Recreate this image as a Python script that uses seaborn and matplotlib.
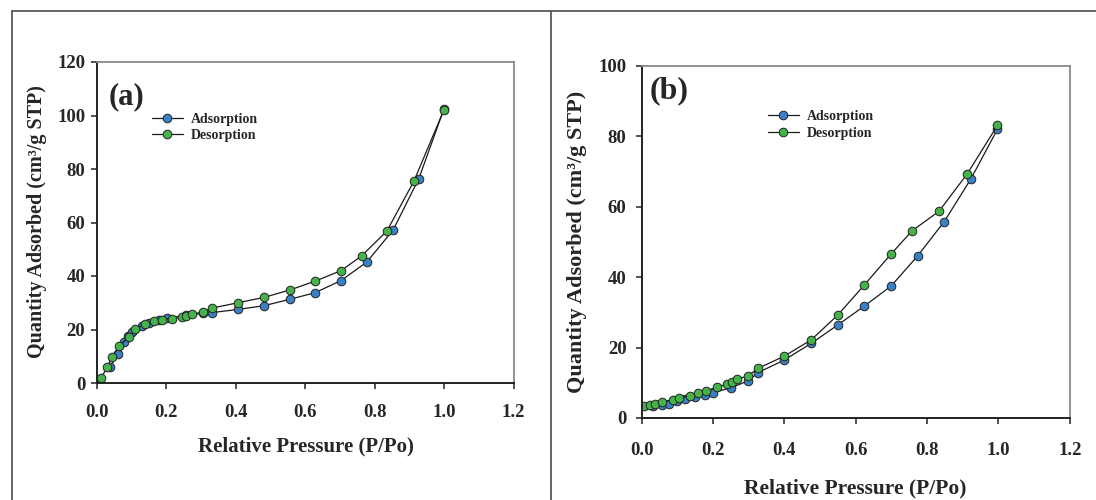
import matplotlib
matplotlib.use("Agg")
import matplotlib.pyplot as plt
import seaborn as sns
import pandas as pd
from matplotlib.lines import Line2D

# panel (a) isotherm
a_ads_p = [0.038, 0.061, 0.079, 0.090, 0.100, 0.129, 0.150, 0.180, 0.203, 0.255,
           0.304, 0.330, 0.406, 0.481, 0.556, 0.629, 0.703, 0.777, 0.853, 0.927, 0.999]
a_ads_q = [6.1, 10.8, 15.4, 17.5, 19.0, 21.3, 22.5, 23.5, 24.2, 25.3,
           26.0, 26.3, 27.5, 28.9, 31.3, 33.8, 38.3, 45.2, 57.2, 76.4, 102.3]
a_des_p = [0.012, 0.030, 0.042, 0.064, 0.092, 0.110, 0.138, 0.164, 0.188, 0.217, 0.245, 0.255,
           0.273, 0.304, 0.331, 0.406, 0.481, 0.556, 0.629, 0.703, 0.762, 0.835, 0.913, 0.999]
a_des_q = [2.0, 5.9, 9.8, 13.8, 17.3, 20.1, 22.1, 23.2, 23.7, 24.0, 24.5, 25.2,
           25.7, 26.5, 28.0, 30.0, 32.0, 34.8, 38.1, 42.0, 47.5, 56.8, 75.5, 102.0]

# panel (b) isotherm
b_ads_p = [0.030, 0.057, 0.075, 0.100, 0.121, 0.149, 0.176, 0.199, 0.251, 0.299,
           0.326, 0.400, 0.475, 0.549, 0.624, 0.699, 0.773, 0.848, 0.922, 0.997]
b_ads_q = [3.4, 3.7, 4.0, 4.8, 5.3, 5.9, 6.4, 7.2, 8.6, 10.6,
           12.9, 16.5, 21.2, 26.4, 31.8, 37.5, 46.0, 55.8, 67.8, 82.0]
b_des_p = [0.005, 0.024, 0.037, 0.056, 0.087, 0.105, 0.134, 0.158, 0.181, 0.211, 0.240, 0.253,
           0.268, 0.298, 0.326, 0.400, 0.475, 0.549, 0.624, 0.699, 0.758, 0.833, 0.912, 0.997]
b_des_q = [3.5, 3.8, 4.1, 4.6, 5.1, 5.6, 6.3, 7.0, 7.8, 8.7, 9.7, 10.3,
           11.0, 12.0, 14.1, 17.6, 22.2, 29.2, 37.8, 46.6, 53.2, 58.7, 69.3, 83.1]

x_ticks = [0.0, 0.2, 0.4, 0.6, 0.8, 1.0, 1.2]
a_y_ticks = [0, 20, 40, 60, 80, 100, 120]
b_y_ticks = [0, 20, 40, 60, 80, 100]

BLUE = "#3a80c4"
GREEN = "#46b34a"

sns.set_style("white")
plt.rcParams["font.family"] = ["Liberation Serif", "DejaVu Serif"]
plt.rcParams["font.weight"] = "bold"
plt.rcParams["axes.labelweight"] = "bold"

fig = plt.figure(figsize=(10.96, 5.0), dpi=100)

# outer table-like frame
frame_kw = dict(color="#5a5a5a", linewidth=1.3, transform=fig.transFigure)
fig.add_artist(Line2D([12 / 1096, 1.0], [1 - 11 / 500] * 2, **frame_kw))
fig.add_artist(Line2D([12 / 1096] * 2, [0.0, 1 - 11 / 500], **frame_kw))
fig.add_artist(Line2D([551 / 1096] * 2, [0.0, 1 - 11 / 500], **frame_kw))


def draw_panel(ax, ads_p, ads_q, des_p, des_q, yticks, tag, tag_xy, tag_size,
               leg_xy, xlab_xy, ylab_xy, xlab_size, ylab_size, xpad, ypad):
    ads = pd.DataFrame({"p": ads_p, "q": ads_q})
    des = pd.DataFrame({"p": des_p, "q": des_q})
    for df, fc, lab in [(ads, BLUE, "Adsorption"), (des, GREEN, "Desorption")]:
        sns.lineplot(data=df, x="p", y="q", ax=ax, color="#1a1a1a", linewidth=0.9,
                     marker="o", markersize=6.2, markerfacecolor=fc,
                     markeredgecolor="#222222", markeredgewidth=0.7, label=lab)

    ax.set_xlim(0, 1.2)
    ax.set_ylim(yticks[0], yticks[-1])
    ax.set_xticks(x_ticks)
    ax.set_xticklabels([f"{t:.1f}" for t in x_ticks])
    ax.set_yticks(yticks)
    ax.tick_params(axis="both", direction="out", length=4, width=1.1,
                   color="#222222", labelsize=13.5, bottom=True, left=True)
    ax.tick_params(axis="x", pad=xpad)
    ax.tick_params(axis="y", pad=ypad)

    for side in ["left", "bottom"]:
        ax.spines[side].set_color("#222222")
        ax.spines[side].set_linewidth(1.4)
    for side in ["top", "right"]:
        ax.spines[side].set_color("#8a8a8a")
        ax.spines[side].set_linewidth(1.3)

    ax.set_xlabel("Relative Pressure (P/Po)", fontsize=xlab_size, va="center")
    ax.set_ylabel("Quantity Adsorbed (cm³/g STP)", fontsize=ylab_size, va="center")
    ax.xaxis.set_label_coords(*xlab_xy)
    ax.yaxis.set_label_coords(*ylab_xy)

    ax.text(tag_xy[0], tag_xy[1], tag, transform=ax.transAxes, fontsize=tag_size,
            ha="center", va="center")

    ax.legend(loc="upper left", bbox_to_anchor=leg_xy, frameon=False, fontsize=10,
              borderpad=0, borderaxespad=0, handlelength=2.2, handletextpad=0.6,
              labelspacing=0.25)


ax_a = fig.add_axes([97 / 1096, 1 - 383 / 500, 416.6 / 1096, 321 / 500])
draw_panel(ax_a, a_ads_p, a_ads_q, a_des_p, a_des_q, a_y_ticks, "(a)", (0.072, 0.891), 22,
           (0.132, 0.842), (0.502, -0.199), (-0.143, 0.502), 15, 14.5, 11, 4.5)

ax_b = fig.add_axes([641.8 / 1096, 1 - 418 / 500, 428 / 1096, 352 / 500])
draw_panel(ax_b, b_ads_p, b_ads_q, b_des_p, b_des_q, b_y_ticks, "(b)", (0.064, 0.929), 23,
           (0.295, 0.874), (0.498, -0.199), (-0.151, 0.500), 15.5, 16, 13, 7)

fig.savefig("out.png", dpi=100)
